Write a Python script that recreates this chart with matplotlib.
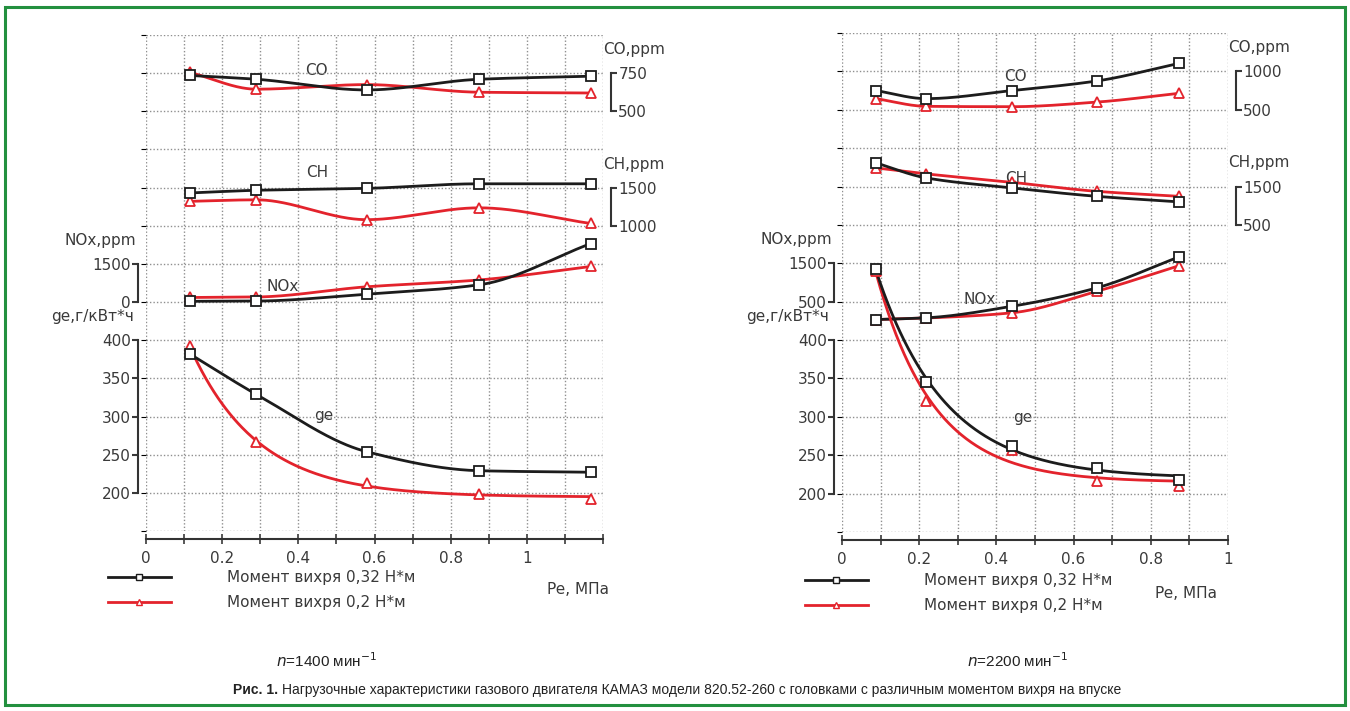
import numpy as np
import matplotlib.pyplot as plt
from matplotlib.lines import Line2D
from matplotlib.patches import Rectangle

plt.rcParams['font.family'] = ['DejaVu Sans']

# load Pe, MPa
pe_1400 = [0.115, 0.29, 0.579, 0.875, 1.168]
pe_2200 = [0.088, 0.218, 0.44, 0.66, 0.874]

# n = 1400 rpm; "_a" - swirl 0.32 N*m, "_b" - swirl 0.2 N*m
co_1400_a = [735, 710, 640, 710, 730]
co_1400_b = [755, 645, 675, 625, 620]
ch_1400_a = [1430, 1465, 1490, 1550, 1550]
ch_1400_b = [1320, 1340, 1080, 1235, 1030]
nox_1400_a = [30, 40, 310, 680, 2300]
nox_1400_b = [180, 200, 600, 870, 1400]
ge_1400_a = [382, 329, 254, 229, 227]
ge_1400_b = [392, 266, 213, 198, 192]

# n = 2200 rpm
co_2200_a = [750, 645, 750, 875, 1105]
co_2200_b = [645, 545, 540, 600, 715]
ch_2200_a = [2115, 1725, 1465, 1245, 1100]
ch_2200_b = [1985, 1830, 1610, 1375, 1245]
nox_2200_a = [35, 80, 380, 860, 1670]
nox_2200_b = [35, 75, 210, 770, 1440]
ge_2200_a = [492, 346, 262, 234, 218]
ge_2200_b = [490, 320, 257, 217, 210]

xtick_labels_1400 = ['0', '', '0.2', '', '0.4', '', '0.6', '', '0.8', '', '1', '', '']
xtick_labels_2200 = ['0', '', '0.2', '', '0.4', '', '0.6', '', '0.8', '', '1']
legend_labels = ['Момент вихря 0,32 Н*м', 'Момент вихря 0,2 Н*м']

BLACK = '#1c1c1c'
RED = '#e3232c'
TXT = '#3a3a3a'
GRID = '#8f8f8f'
FS = 11

fig = plt.figure(figsize=(13.5, 7.11), dpi=100)


def px(x, y):
    return x / 1350, 1 - y / 711


def pchip(x, y, xs):
    # monotone cubic Hermite curve through the measured points
    x = np.asarray(x, float)
    y = np.asarray(y, float)
    h = np.diff(x)
    d = np.diff(y) / h
    m = np.zeros_like(y)
    m[0], m[-1] = d[0], d[-1]
    for i in range(1, len(x) - 1):
        if d[i - 1] * d[i] > 0:
            w1 = 2 * h[i] + h[i - 1]
            w2 = h[i] + 2 * h[i - 1]
            m[i] = (w1 + w2) / (w1 / d[i - 1] + w2 / d[i])
    i = np.clip(np.searchsorted(x, xs) - 1, 0, len(h) - 1)
    t = (xs - x[i]) / h[i]
    return ((2 * t**3 - 3 * t**2 + 1) * y[i] + (t**3 - 2 * t**2 + t) * h[i] * m[i]
            + (-2 * t**3 + 3 * t**2) * y[i + 1] + (t**3 - t**2) * h[i] * m[i + 1])


def exp_fit(x, y, xs):
    # least-squares a + b*exp(-k*x) trend for fuel consumption
    x = np.asarray(x, float)
    y = np.asarray(y, float)
    best = None
    for k in np.linspace(0.5, 12, 461):
        A = np.column_stack([np.ones_like(x), np.exp(-k * x)])
        coef = np.linalg.lstsq(A, y, rcond=None)[0]
        r = np.sum((A @ coef - y) ** 2)
        if best is None or r < best[0]:
            best = (r, k, coef)
    _, k, (a, b) = best
    return a + b * np.exp(-k * xs)


def base_axes(x0, y0, x1, y1, xmax, xlabels):
    l, b = px(x0, y1)
    r, t = px(x1, y0)
    ax = fig.add_axes([l, b, r - l, t - b])
    ax.set_xlim(0, xmax)
    ax.set_ylim(0, 13)
    ax.set_xticks(np.round(np.arange(0, xmax + 0.01, 0.1), 1))
    ax.set_xticklabels(xlabels)
    ax.set_yticks(range(14))
    ax.tick_params(axis='y', left=False, labelleft=False)
    ax.tick_params(axis='x', direction='inout', length=7, width=1.2,
                   colors=TXT, labelsize=FS, pad=5)
    for s in ['left', 'right', 'top']:
        ax.spines[s].set_visible(False)
    ax.spines['bottom'].set_position(('outward', 6))
    ax.spines['bottom'].set_linewidth(1.5)
    ax.spines['bottom'].set_color('#333333')
    ax.grid(True, color=GRID, linestyle=(0, (1, 1.5)), linewidth=1)
    return ax


def scale_axis(ax, side, lim, ticks, title, title_dx):
    tw = ax.twinx()
    tw.set_ylim(*lim)
    for s in tw.spines.values():
        s.set_visible(False)
    sp = tw.spines[side]
    sp.set_visible(True)
    sp.set_position(('outward', 6))
    sp.set_bounds(ticks[0], ticks[-1])
    sp.set_linewidth(1.5)
    sp.set_color('#333333')
    if side == 'left':
        tw.yaxis.tick_left()
    else:
        tw.yaxis.tick_right()
    tw.set_yticks(ticks)
    tw.tick_params(axis='y', length=4, width=1.5, colors=TXT,
                   labelsize=FS, pad=1)
    xa = 0 if side == 'left' else 1
    tw.annotate(title, xy=(xa, ticks[-1]),
                xycoords=(ax.transAxes, tw.transData),
                xytext=(title_dx, 17), textcoords='offset points',
                ha='right' if side == 'left' else 'left', va='center',
                fontsize=FS, color=TXT)
    return tw


def draw_series(tw, x, y, color, marker, fit):
    xs = np.linspace(x[0], x[-1], 300)
    tw.plot(xs, fit(x, y, xs), color=color, lw=2, zorder=2)
    tw.plot(x, y, ls='none', marker=marker, ms=6.5, mfc='white',
            mec=color, mew=1.3, zorder=3)


def curve_label(ax, x, row, s):
    ax.text(x, row, s, ha='center', va='center', fontsize=FS, color=TXT,
            bbox=dict(fc='white', ec='none', pad=0.3), zorder=1)


def legend(ax, x, y):
    handles = [Line2D([], [], color=BLACK, lw=2, marker='s', ms=5,
                      mfc='white', mec=BLACK),
               Line2D([], [], color=RED, lw=2, marker='^', ms=5,
                      mfc='white', mec=RED)]
    l, t = px(x, y)
    leg = ax.legend(handles, legend_labels, loc='upper left',
                    bbox_to_anchor=(l, t), bbox_transform=fig.transFigure,
                    frameon=False, fontsize=FS, handlelength=4.1,
                    handletextpad=3.7, labelspacing=0.65, borderpad=0,
                    borderaxespad=0)
    for t_ in leg.get_texts():
        t_.set_color(TXT)


def panel(pe, sets):
    for tw, a, b, fit_a, fit_b in sets:
        draw_series(tw, pe, b, RED, '^', fit_b)
        draw_series(tw, pe, a, BLACK, 's', fit_a)


# ---- n = 1400 ----
ax1 = base_axes(146, 35, 603, 531, 1.2, xtick_labels_1400)
co1 = scale_axis(ax1, 'right', (-2250, 1000), [500, 750], 'CO,ppm', 0)
ch1 = scale_axis(ax1, 'right', (-3000, 3500), [1000, 1500], 'CH,ppm', 0)
nox1 = scale_axis(ax1, 'left', (-9000, 10500), [0, 1500], 'NOx,ppm', -7)
ge1 = scale_axis(ax1, 'left', (150, 800), [200, 250, 300, 350, 400],
                 'ge,г/кВт*ч', -9)
panel(pe_1400, [(co1, co_1400_a, co_1400_b, pchip, pchip),
                (ch1, ch_1400_a, ch_1400_b, pchip, pchip),
                (nox1, nox_1400_a, nox_1400_b, pchip, pchip),
                (ge1, ge_1400_a, ge_1400_b, pchip, exp_fit)])
curve_label(ax1, 0.448, 12.08, 'CO')
curve_label(ax1, 0.449, 9.40, 'CH')
curve_label(ax1, 0.358, 6.41, 'NOx')
curve_label(ax1, 0.467, 3.02, 'ge')
legend(ge1, 108, 570)
fig.text(*px(578, 589), 'Pe, МПа', ha='center', va='center', fontsize=FS, color=TXT)

# ---- n = 2200 ----
ax2 = base_axes(842, 33, 1228, 532, 1.0, xtick_labels_2200)
co2 = scale_axis(ax2, 'right', (-5000, 1500), [500, 1000], 'CO,ppm', 0)
ch2 = scale_axis(ax2, 'right', (-7500, 5500), [500, 1500], 'CH,ppm', 0)
nox2 = scale_axis(ax2, 'left', (-5500, 7500), [500, 1500], 'NOx,ppm', -7)
ge2 = scale_axis(ax2, 'left', (150, 800), [200, 250, 300, 350, 400],
                 'ge,г/кВт*ч', -9)
panel(pe_2200, [(co2, co_2200_a, co_2200_b, pchip, pchip),
                (ch2, ch_2200_a, ch_2200_b, pchip, pchip),
                (nox2, nox_2200_a, nox_2200_b, pchip, pchip),
                (ge2, ge_2200_a, ge_2200_b, exp_fit, exp_fit)])
curve_label(ax2, 0.45, 11.87, 'CO')
curve_label(ax2, 0.45, 9.22, 'CH')
curve_label(ax2, 0.357, 6.07, 'NOx')
curve_label(ax2, 0.469, 2.97, 'ge')
legend(ge2, 805, 573)
fig.text(*px(1186, 593), 'Pe, МПа', ha='center', va='center', fontsize=FS, color=TXT)

# ---- captions ----
cap_font = ['Liberation Sans', 'DejaVu Sans']
fig.text(*px(326, 661), r'$\it{n}$=1400 мин$^{-1}$', ha='center', va='center',
         fontsize=11, color='#222222', family=cap_font)
fig.text(*px(1017, 661), r'$\it{n}$=2200 мин$^{-1}$', ha='center', va='center',
         fontsize=11, color='#222222', family=cap_font)
t1 = fig.text(*px(233, 690), 'Рис. 1.', ha='left', va='center', fontsize=10,
              weight='bold', color='#222222', family=cap_font)
ax1.annotate('Нагрузочные характеристики газового двигателя КАМАЗ модели '
             '820.52-260 с головками с различным моментом вихря на впуске',
             xy=(1, 0.5), xycoords=t1, xytext=(3, 0), textcoords='offset points',
             ha='left', va='center', fontsize=10, color='#222222',
             family=cap_font, annotation_clip=False)

# frame
fig.add_artist(Rectangle(px(5, 705), 1340 / 1350, 698 / 711,
                         transform=fig.transFigure, fill=False,
                         ec='#23903f', lw=2.2))

fig.savefig('out.png', dpi=100)
